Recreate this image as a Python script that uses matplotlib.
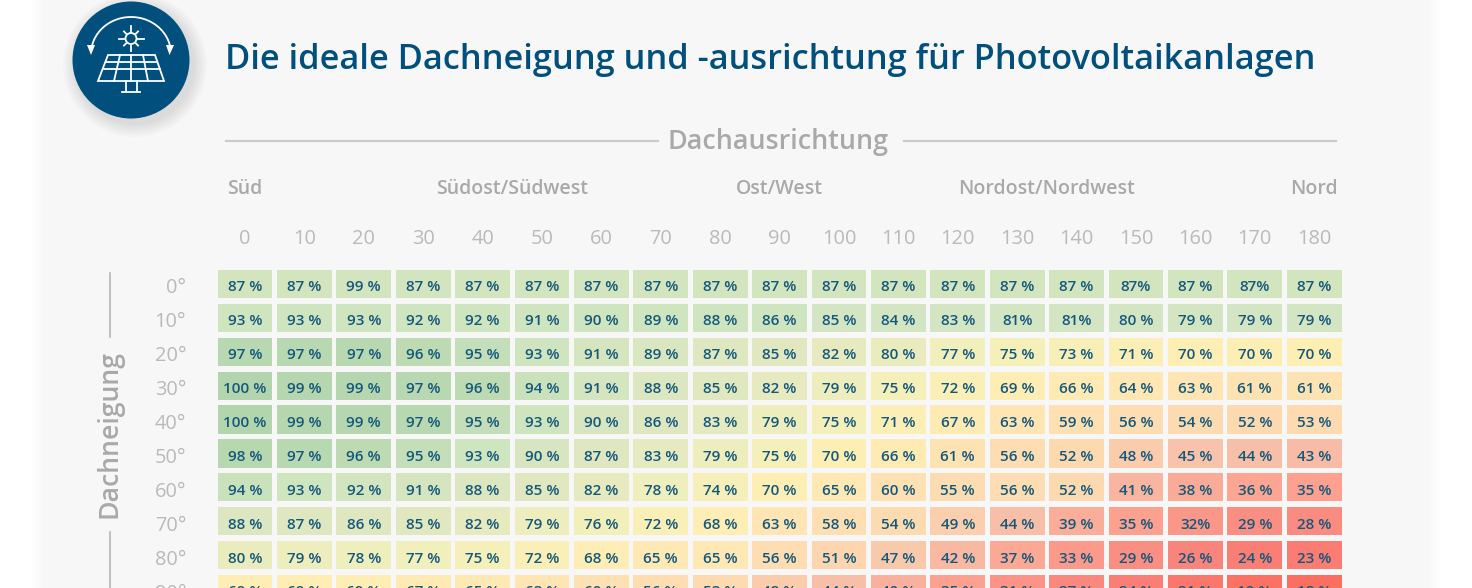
import numpy as np
import matplotlib
matplotlib.use("Agg")
import matplotlib.pyplot as plt
from matplotlib.colors import LinearSegmentedColormap
from matplotlib.patches import Circle, Rectangle, Polygon

plt.rcParams['font.family'] = ['Open Sans', 'DejaVu Sans']

# Ausrichtung und Neigung
azimuth = ["0", "10", "20", "30", "40", "50", "60", "70", "80", "90", "100",
           "110", "120", "130", "140", "150", "160", "170", "180"]
tilt = ["0°", "10°", "20°", "30°", "40°", "50°", "60°", "70°", "80°", "90°"]
groups = ["Süd", "Südost/Südwest", "Ost/West", "Nordost/Nordwest", "Nord"]
group_cols = [0, 4.5, 9, 13.5, 18]

# Werte wie im Bild, auch die Schreibweise ohne Leerzeichen
tilt_0 = ["87 %", "87 %", "99 %", "87 %", "87 %", "87 %", "87 %", "87 %", "87 %", "87 %", "87 %", "87 %", "87 %", "87 %", "87 %", "87%", "87 %", "87%", "87 %"]
tilt_10 = ["93 %", "93 %", "93 %", "92 %", "92 %", "91 %", "90 %", "89 %", "88 %", "86 %", "85 %", "84 %", "83 %", "81%", "81%", "80 %", "79 %", "79 %", "79 %"]
tilt_20 = ["97 %", "97 %", "97 %", "96 %", "95 %", "93 %", "91 %", "89 %", "87 %", "85 %", "82 %", "80 %", "77 %", "75 %", "73 %", "71 %", "70 %", "70 %", "70 %"]
tilt_30 = ["100 %", "99 %", "99 %", "97 %", "96 %", "94 %", "91 %", "88 %", "85 %", "82 %", "79 %", "75 %", "72 %", "69 %", "66 %", "64 %", "63 %", "61 %", "61 %"]
tilt_40 = ["100 %", "99 %", "99 %", "97 %", "95 %", "93 %", "90 %", "86 %", "83 %", "79 %", "75 %", "71 %", "67 %", "63 %", "59 %", "56 %", "54 %", "52 %", "53 %"]
tilt_50 = ["98 %", "97 %", "96 %", "95 %", "93 %", "90 %", "87 %", "83 %", "79 %", "75 %", "70 %", "66 %", "61 %", "56 %", "52 %", "48 %", "45 %", "44 %", "43 %"]
tilt_60 = ["94 %", "93 %", "92 %", "91 %", "88 %", "85 %", "82 %", "78 %", "74 %", "70 %", "65 %", "60 %", "55 %", "56 %", "52 %", "41 %", "38 %", "36 %", "35 %"]
tilt_70 = ["88 %", "87 %", "86 %", "85 %", "82 %", "79 %", "76 %", "72 %", "68 %", "63 %", "58 %", "54 %", "49 %", "44 %", "39 %", "35 %", "32%", "29 %", "28 %"]
tilt_80 = ["80 %", "79 %", "78 %", "77 %", "75 %", "72 %", "68 %", "65 %", "65 %", "56 %", "51 %", "47 %", "42 %", "37 %", "33 %", "29 %", "26 %", "24 %", "23 %"]
tilt_90 = ["69 %", "69 %", "69 %", "67 %", "65 %", "63 %", "60 %", "56 %", "53 %", "48 %", "44 %", "40 %", "35 %", "31 %", "27 %", "24 %", "21 %", "19 %", "18 %"]
rows = [tilt_0, tilt_10, tilt_20, tilt_30, tilt_40, tilt_50, tilt_60, tilt_70, tilt_80, tilt_90]

BLUE = "#004f7c"
GREY = "#a9a9a9"
LIGHT = "#bababa"
PANEL = "#f7f7f7"

# Farbskala von rot ueber gelb nach gruen
scale = LinearSegmentedColormap.from_list("ertrag", [
    (0.0, "#fb6f62"), (0.08, "#f98078"), (0.21, "#fca290"), (0.32, "#f7c0a9"),
    (0.41, "#fdd8b0"), (0.52, "#fee2b2"), (0.63, "#feefb4"), (0.72, "#f1efbc"),
    (0.80, "#e4e9c0"), (0.86, "#dbe6c0"), (0.92, "#cfe5bf"), (0.96, "#b9d8b1"),
    (1.0, "#b3d5ad")])

def color_for(value, row):
    # die flachen Reihen sind im Original gruener als ihr Wert
    if row == 0:
        return "#d2e5bf"
    if row == 1:
        return "#cfe5bf" if value > 85 else "#d3e5c3"
    return scale((value - 18) / 82)

fig = plt.figure(figsize=(14.72, 5.88), dpi=100, facecolor="white")

# Hintergrund und Deko in Pixelkoordinaten
bg = fig.add_axes([0, 0, 1, 1], zorder=0)
bg.set_xlim(0, 1472)
bg.set_ylim(588, 0)
bg.axis("off")
for grow, col in zip([8, 5, 2], ["#fdfdfd", "#fbfbfb", "#f9f9f9"]):
    bg.add_patch(Rectangle((40 - grow, 0), 1392 + 2 * grow, 588, fc=col, ec="none"))
bg.add_patch(Rectangle((42, 0), 1388, 588, fc=PANEL, ec="none"))

# Icon mit weichem Schatten
for r in [72, 70, 68, 66, 64, 62, 60]:
    bg.add_patch(Circle((135, 65), r, fc="black", ec="none", alpha=0.014))
bg.add_patch(Circle((131, 60), 58.5, fc=BLUE, ec="none"))
t = np.linspace(np.radians(188), np.radians(352), 60)
bg.plot(131 + 40 * np.cos(t), 54 + 37 * np.sin(t), color="white", lw=1.3)
bg.add_patch(Polygon([[87, 45], [95, 45], [91, 55]], fc="white", ec="none"))
bg.add_patch(Polygon([[166, 45], [174, 45], [169.5, 55]], fc="white", ec="none"))
bg.add_patch(Circle((131, 38.5), 5.5, fc="none", ec="white", lw=1.3))
for ang in np.arange(0, 360, 45):
    c, s = np.cos(np.radians(ang)), np.sin(np.radians(ang))
    ln = 12.5 if ang % 90 == 0 else 10
    bg.plot([131 + 7 * c, 131 + ln * c], [38.5 + 7 * s, 38.5 + ln * s], color="white", lw=1.3)
bg.add_patch(Polygon([[108, 55], [155, 55], [164, 81], [98, 81]], fc="none", ec="white", lw=1.3))
for f in [0.25, 0.52]:
    bg.plot([108 - 10 * f, 155 + 9 * f], [55 + 26 * f, 55 + 26 * f], color="white", lw=1.3)
for top, bot in [(120, 114), (131, 131), (143, 148)]:
    bg.plot([top, bot], [55, 81], color="white", lw=1.3)
bg.plot([126, 126], [81, 91], color="white", lw=1.3)
bg.plot([137, 137], [81, 91], color="white", lw=1.3)
bg.plot([122, 140], [91.5, 91.5], color="white", lw=1.3)

bg.text(225, 60, "Die ideale Dachneigung und -ausrichtung für Photovoltaikanlagen",
        color=BLUE, fontsize=24.72, fontweight=600, va="center", ha="left")

# Kopfzeile und Seitenbeschriftung
bg.plot([226, 658], [141, 141], color="#cbcbcb", lw=1.6)
bg.plot([904, 1336], [141, 141], color="#cbcbcb", lw=1.6)
bg.text(778, 142, "Dachausrichtung", color=GREY, fontsize=19.4, fontweight=600, ha="center", va="center")
bg.plot([110, 110], [273, 337], color="#b5b5b5", lw=1.2)
bg.plot([110, 110], [532, 590], color="#b5b5b5", lw=1.2)
bg.text(109, 434, "Dachneigung", color=GREY, fontsize=19.2, fontweight=600, rotation=90, ha="center", va="center")

# Heatmap, laeuft unten aus dem Bild
ax = fig.add_axes([215.3 / 1472, (588 - 606) / 588, 1128.6 / 1472, 339 / 588], zorder=1)
ax.patch.set_alpha(0)
for r, row in enumerate(rows):
    for c, label in enumerate(row):
        value = int(label.replace("%", "").strip())
        ax.bar(c, 0.83, bottom=r - 0.415, width=0.92, color=color_for(value, r), linewidth=0)
        ax.text(c, r + 0.1, label, ha="center", va="center", color="#14587b", fontsize=11, fontweight=600)
ax.set_xlim(-0.5, 18.5)
ax.set_ylim(9.5, -0.5)
for s in ax.spines.values():
    s.set_visible(False)
ax.xaxis.tick_top()
ax.set_xticks(range(len(azimuth)), azimuth)
ax.set_yticks([i + 0.06 for i in range(len(tilt))], tilt)
ax.tick_params(length=0, labelcolor=LIGHT, labelsize=14.4)
ax.tick_params(axis="x", pad=13)
ax.tick_params(axis="y", pad=21)
for x, name in zip(group_cols, groups):
    ax.text(x, -2.8, name, ha="center", va="center", color=GREY, fontsize=14, fontweight=600)

fig.savefig("out.png", dpi=100, facecolor="white")
